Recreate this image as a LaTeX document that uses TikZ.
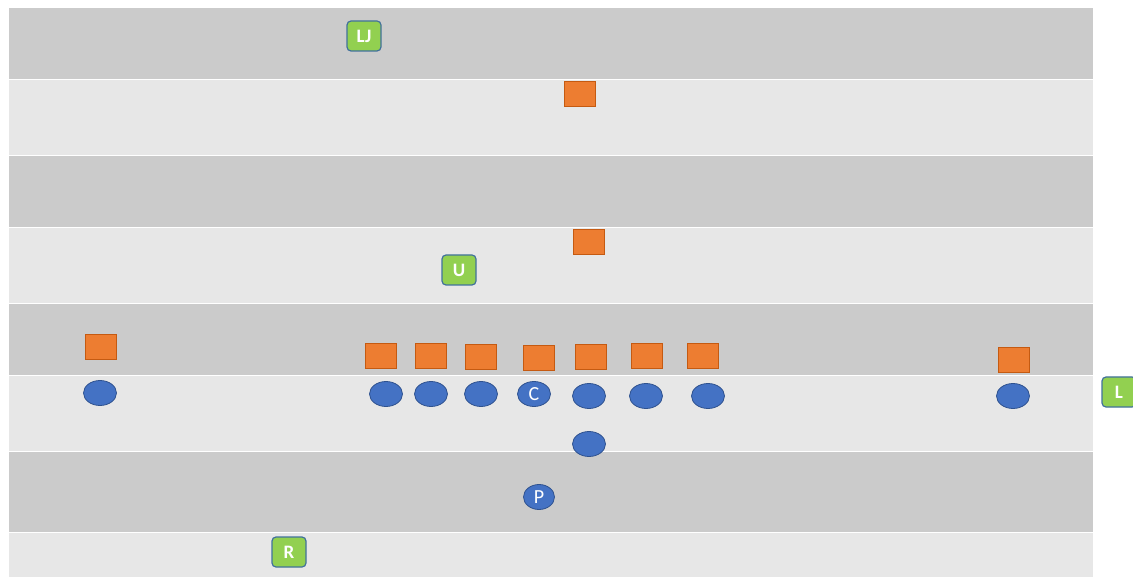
\documentclass[tikz,border=0pt]{standalone}
\usepackage{fontspec}
\setmainfont{Carlito}
\definecolor{darkstripe}{HTML}{CBCBCB}
\definecolor{lightstripe}{HTML}{E7E7E7}
\definecolor{dorange}{HTML}{ED7D31}
\definecolor{dorangeb}{HTML}{C55A11}
\definecolor{pblue}{HTML}{4472C4}
\definecolor{pblueb}{HTML}{2F528F}
\definecolor{pgreen}{HTML}{92D050}
\definecolor{pgreenb}{HTML}{41719C}
\tikzset{
  defender/.style={draw=dorangeb, fill=dorange, line width=1pt, minimum width=31pt, minimum height=25pt, inner sep=0pt},
  player/.style={ellipse, draw=pblueb, fill=pblue, line width=0.8pt, minimum width=33pt, minimum height=25pt, inner sep=0pt, text=white, font=\fontsize{20}{20}\selectfont},
  tag/.style={draw=pgreenb, fill=pgreen, rounded corners=4pt, line width=1.2pt, minimum width=34pt, minimum height=30pt, inner sep=0pt, text=white, font=\bfseries\fontsize{19}{19}\selectfont},
  band/.style={draw=white, line width=1pt}
}
\usetikzlibrary{shapes.geometric}
\begin{document}
\begin{tikzpicture}[x=1pt,y=-1pt]
\useasboundingbox (0,0) rectangle (1133,577);
\clip (0,0) rectangle (1133,577);
\fill[white] (0,0) rectangle (1133,577);
\fill[darkstripe, band] (8,8) rectangle (1093,80);
\fill[lightstripe, band] (8,80) rectangle (1093,156);
\fill[darkstripe, band] (8,156) rectangle (1093,228);
\fill[lightstripe, band] (8,228) rectangle (1093,304);
\fill[darkstripe, band] (8,304) rectangle (1093,376);
\fill[lightstripe, band] (8,376) rectangle (1093,451);
\fill[darkstripe, band] (8,451) rectangle (1093,532);
\fill[lightstripe, band] (8,532) rectangle (1093,580);
% defenders
\node[defender] (d1) at (580,94) {};
\node[defender] (d2) at (589,242) {};
\node[defender] (d3) at (101,347) {};
\node[defender] (d4) at (381,356) {};
\node[defender] (d5) at (431,356) {};
\node[defender] (d6) at (481,357) {};
\node[defender] (d7) at (539,358) {};
\node[defender] (d8) at (591,357) {};
\node[defender] (d9) at (647,356) {};
\node[defender] (d10) at (703,356) {};
\node[defender] (d11) at (1014,360) {};
% offense
\node[player] (o1) at (100,393) {};
\node[player] (o2) at (386,394) {};
\node[player] (o3) at (431,394) {};
\node[player] (o4) at (481,394) {};
\node[player] (oc) at (534,394) {C};
\node[player] (o5) at (589,396) {};
\node[player] (o6) at (646,396) {};
\node[player] (o7) at (708,396) {};
\node[player] (o8) at (1013,396) {};
\node[player] (o9) at (589,444) {};
\node[player, minimum width=31pt] (op) at (539,497) {P};
% tags
\node[tag] (lj) at (364,36) {LJ};
\node[tag] (u) at (459,270) {U};
\node[tag] (r) at (289,552) {R};
\node[tag] (l) at (1119,392) {L};
\end{tikzpicture}
\end{document}
